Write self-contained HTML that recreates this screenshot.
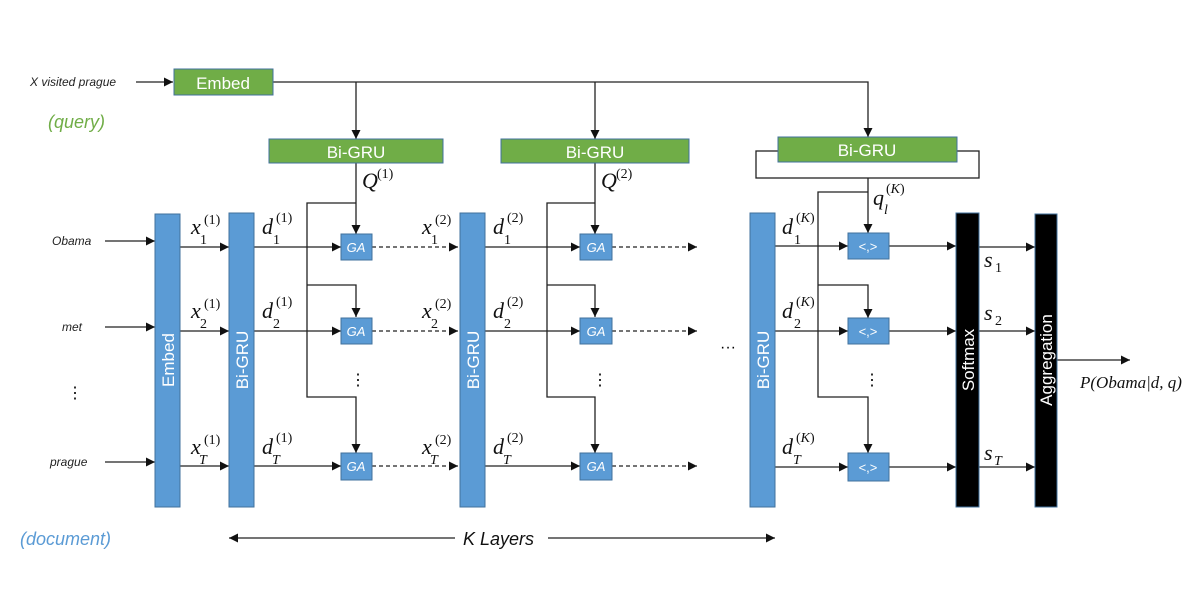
<!DOCTYPE html>
<html><head><meta charset="utf-8"><style>
html,body{margin:0;padding:0;background:#fff;}
svg{display:block}
.m{font-family:"Liberation Serif",serif;font-style:italic;fill:#111}
.b{font-size:22px}.s{font-size:14px;font-style:normal}.ss{font-size:14px}
.w{font-family:"Liberation Sans",sans-serif;fill:#fff}
.l{font-family:"Liberation Sans",sans-serif;font-style:italic;font-size:12px;fill:#222}
</style></head><body>
<svg width="1196" height="604" viewBox="0 0 1196 604" xmlns="http://www.w3.org/2000/svg">
<defs><marker id="a" viewBox="0 0 10 10" refX="10" refY="5" markerWidth="7" markerHeight="7" orient="auto-start-reverse"><path d="M0,0 L10,5 L0,10 z" fill="#111"/></marker></defs>
<g stroke="#222" stroke-width="1.3" fill="none">
<!-- query -->
<line x1="136" y1="82" x2="173" y2="82" marker-end="url(#a)"/>
<polyline points="273,82 868,82 868,137" marker-end="url(#a)"/>
<line x1="356" y1="82" x2="356" y2="139" marker-end="url(#a)"/>
<line x1="595" y1="82" x2="595" y2="139" marker-end="url(#a)"/>
<rect x="756" y="151" width="223" height="27"/>
<line x1="356" y1="163" x2="356" y2="234" marker-end="url(#a)"/>
<line x1="595" y1="163" x2="595" y2="234" marker-end="url(#a)"/>
<line x1="868" y1="178" x2="868" y2="233" marker-end="url(#a)"/>
<!-- branches -->
<polyline points="356,203 307,203 307,397 356,397 356,453" marker-end="url(#a)"/>
<polyline points="307,285 356,285 356,317" marker-end="url(#a)"/>
<polyline points="595,203 547,203 547,397 595,397 595,453" marker-end="url(#a)"/>
<polyline points="547,285 595,285 595,317" marker-end="url(#a)"/>
<polyline points="868,192 818,192 818,397 868,397 868,453" marker-end="url(#a)"/>
<polyline points="818,285 868,285 868,318" marker-end="url(#a)"/>
<!-- inputs -->
<line x1="105" y1="241" x2="155" y2="241" marker-end="url(#a)"/>
<line x1="105" y1="327" x2="155" y2="327" marker-end="url(#a)"/>
<line x1="105" y1="462" x2="155" y2="462" marker-end="url(#a)"/>
<!-- rows -->
<g marker-end="url(#a)">
<line x1="180" y1="247" x2="229" y2="247"/><line x1="180" y1="331" x2="229" y2="331"/><line x1="180" y1="466" x2="229" y2="466"/>
<line x1="254" y1="247" x2="341" y2="247"/><line x1="254" y1="331" x2="341" y2="331"/><line x1="254" y1="466" x2="341" y2="466"/>
<line x1="485" y1="247" x2="580" y2="247"/><line x1="485" y1="331" x2="580" y2="331"/><line x1="485" y1="466" x2="580" y2="466"/>
<line x1="775" y1="246" x2="848" y2="246"/><line x1="775" y1="331" x2="848" y2="331"/><line x1="775" y1="467" x2="848" y2="467"/>
<line x1="889" y1="246" x2="956" y2="246"/><line x1="889" y1="331" x2="956" y2="331"/><line x1="889" y1="467" x2="956" y2="467"/>
<line x1="979" y1="247" x2="1035" y2="247"/><line x1="979" y1="331" x2="1035" y2="331"/><line x1="979" y1="467" x2="1035" y2="467"/>
<line x1="1057" y1="360" x2="1130" y2="360"/>
<g stroke-dasharray="4,3"><line x1="372" y1="247" x2="458" y2="247"/><line x1="372" y1="331" x2="458" y2="331"/><line x1="372" y1="466" x2="458" y2="466"/>
<line x1="612" y1="247" x2="697" y2="247"/><line x1="612" y1="331" x2="697" y2="331"/><line x1="612" y1="466" x2="697" y2="466"/></g>
</g>
<line x1="229" y1="538" x2="455" y2="538" marker-start="url(#a)"/>
<line x1="548" y1="538" x2="775" y2="538" marker-end="url(#a)"/>
</g>
<!-- boxes -->
<g stroke="#41719C" stroke-width="1">
<rect x="174" y="69" width="99" height="26" fill="#70AD47"/>
<rect x="269" y="139" width="174" height="24" fill="#70AD47"/>
<rect x="501" y="139" width="188" height="24" fill="#70AD47"/>
<rect x="778" y="137" width="179" height="25" fill="#70AD47"/>
<rect x="155" y="214" width="25" height="293" fill="#5B9BD5"/>
<rect x="229" y="213" width="25" height="294" fill="#5B9BD5"/>
<rect x="460" y="213" width="25" height="294" fill="#5B9BD5"/>
<rect x="750" y="213" width="25" height="294" fill="#5B9BD5"/>
<rect x="341" y="234" width="31" height="26" fill="#5B9BD5"/><rect x="341" y="318" width="31" height="26" fill="#5B9BD5"/><rect x="341" y="453" width="31" height="27" fill="#5B9BD5"/>
<rect x="580" y="234" width="32" height="26" fill="#5B9BD5"/><rect x="580" y="318" width="32" height="26" fill="#5B9BD5"/><rect x="580" y="453" width="32" height="27" fill="#5B9BD5"/>
<rect x="848" y="233" width="41" height="26" fill="#5B9BD5"/><rect x="848" y="318" width="41" height="26" fill="#5B9BD5"/><rect x="848" y="453" width="41" height="28" fill="#5B9BD5"/>
<rect x="956" y="213" width="23" height="294" fill="#000"/>
<rect x="1035" y="214" width="22" height="293" fill="#000"/>
</g>
<g class="w" font-size="17" text-anchor="middle">
<text x="223" y="89">Embed</text><text x="356" y="158">Bi-GRU</text><text x="595" y="158">Bi-GRU</text><text x="867" y="156">Bi-GRU</text>
<text transform="translate(174,360) rotate(-90)">Embed</text>
<text transform="translate(248,360) rotate(-90)">Bi-GRU</text>
<text transform="translate(479,360) rotate(-90)">Bi-GRU</text>
<text transform="translate(769,360) rotate(-90)">Bi-GRU</text>
<text transform="translate(974,360) rotate(-90)">Softmax</text>
<text transform="translate(1052,360) rotate(-90)">Aggregation</text>
</g>
<g class="w" font-size="13" text-anchor="middle" font-style="italic" font-family="Liberation Serif">
<text x="356" y="252">GA</text><text x="356" y="336">GA</text><text x="356" y="471">GA</text>
<text x="596" y="252">GA</text><text x="596" y="336">GA</text><text x="596" y="471">GA</text>
<text x="868" y="251" font-style="normal">&lt;,&gt;</text><text x="868" y="336" font-style="normal">&lt;,&gt;</text><text x="868" y="472" font-style="normal">&lt;,&gt;</text>
</g>
<!-- left labels -->
<text class="l" x="30" y="86">X visited prague</text>
<text x="48" y="128" font-family="Liberation Sans" font-style="italic" font-size="18" fill="#70AD47">(query)</text>
<text x="20" y="545" font-family="Liberation Sans" font-style="italic" font-size="18" fill="#5B9BD5">(document)</text>
<text class="l" x="52" y="245">Obama</text><text class="l" x="62" y="331">met</text><text class="l" x="50" y="466">prague</text>
<text x="67" y="398" font-size="16" font-family="Liberation Sans">⋮</text>
<text x="350" y="385" font-size="16" font-family="Liberation Sans">⋮</text>
<text x="592" y="385" font-size="16" font-family="Liberation Sans">⋮</text>
<text x="864" y="385" font-size="16" font-family="Liberation Sans">⋮</text>
<text x="720" y="352" font-size="16" font-family="Liberation Sans">···</text>
<text x="463" y="545" font-family="Liberation Sans" font-style="italic" font-size="18" fill="#111">K Layers</text>
<!-- math labels -->
<g class="m">
<g class="b"><text x="191" y="234">x</text><text x="191" y="318">x</text><text x="191" y="454">x</text>
<text x="422" y="234">x</text><text x="422" y="318">x</text><text x="422" y="454">x</text>
<text x="262" y="234">d</text><text x="262" y="318">d</text><text x="262" y="454">d</text>
<text x="493" y="234">d</text><text x="493" y="318">d</text><text x="493" y="454">d</text>
<text x="782" y="234">d</text><text x="782" y="318">d</text><text x="782" y="454">d</text>
<text x="362" y="188">Q</text><text x="601" y="188">Q</text><text x="873" y="205">q</text>
<text x="984" y="267">s</text><text x="984" y="320">s</text><text x="984" y="460">s</text>
</g>
<g class="s">
<text x="204" y="224">(1)</text><text x="204" y="308">(1)</text><text x="204" y="444">(1)</text>
<text x="435" y="224">(2)</text><text x="435" y="308">(2)</text><text x="435" y="444">(2)</text>
<text x="276" y="222">(1)</text><text x="276" y="306">(1)</text><text x="276" y="442">(1)</text>
<text x="507" y="222">(2)</text><text x="507" y="306">(2)</text><text x="507" y="442">(2)</text>
<text x="796" y="222">(<tspan font-style="italic">K</tspan>)</text><text x="796" y="306">(<tspan font-style="italic">K</tspan>)</text><text x="796" y="442">(<tspan font-style="italic">K</tspan>)</text>
<text x="377" y="178">(1)</text><text x="616" y="178">(2)</text><text x="886" y="193">(<tspan font-style="italic">K</tspan>)</text>
<text x="200" y="244">1</text><text x="200" y="328">2</text>
<text x="431" y="244">1</text><text x="431" y="328">2</text>
<text x="273" y="244">1</text><text x="273" y="328">2</text>
<text x="504" y="244">1</text><text x="504" y="328">2</text>
<text x="794" y="244">1</text><text x="794" y="328">2</text>
<text x="995" y="272">1</text><text x="995" y="325">2</text>
</g>
<g class="ss">
<text x="199" y="464">T</text><text x="430" y="464">T</text><text x="272" y="464">T</text><text x="503" y="464">T</text><text x="793" y="464">T</text>
<text x="994" y="465">T</text><text x="884" y="214">l</text>
</g>
<text x="1080" y="388" font-size="17">P(Obama|d, q)</text>
</g>
</svg>
</body></html>
